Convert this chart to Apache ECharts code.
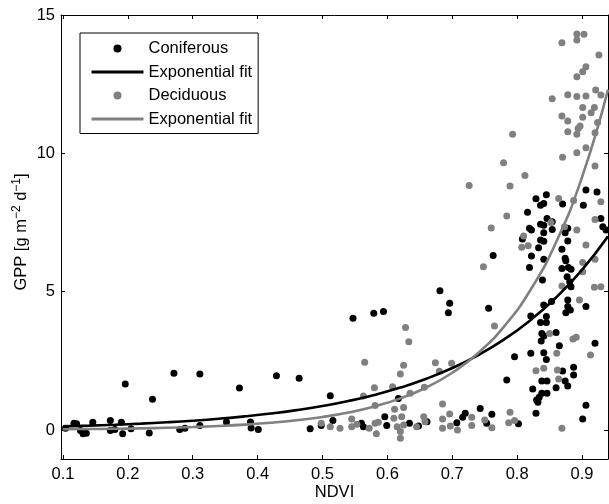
<!DOCTYPE html>
<html>
<head>
<meta charset="utf-8">
<script src="https://cdn.jsdelivr.net/npm/echarts@6/dist/echarts.min.js"></script>
<style>
html,body{margin:0;padding:0;background:#fff;}
#chart{width:609px;height:504px;}
</style>
</head>
<body>
<div id="chart"></div>
<script>
// ---- data ----
const xTicks = [0.1, 0.2, 0.3, 0.4, 0.5, 0.6, 0.7, 0.8, 0.9];
const yTicks = [0, 5, 10, 15];

const coniferous = [
  [0.104,0.06],[0.117,0.24],[0.121,0.22],[0.127,-0.02],[0.131,-0.14],[0.136,-0.12],[0.146,0.28],
  [0.173,0.34],[0.173,-0.02],[0.180,0.02],[0.190,0.28],[0.192,-0.14],[0.196,1.66],[0.205,0.04],
  [0.233,-0.11],[0.238,1.11],[0.271,2.05],[0.280,0.02],[0.288,0.06],[0.311,2.02],[0.311,0.16],
  [0.352,0.29],[0.372,1.52],[0.389,0.29],[0.390,0.07],[0.401,0.02],
  [0.429,1.96],[0.464,1.87],[0.481,0.04],[0.498,0.16],[0.512,1.24],[0.516,0.34],[0.547,4.04],
  [0.560,0.24],[0.563,0.12],[0.579,4.22],[0.594,4.28],[0.596,0.48],[0.599,0.16],[0.617,1.14],
  [0.634,0.24],[0.648,0.14],[0.661,0.30],[0.681,5.03],[0.694,4.24],[0.696,4.58],
  [0.707,0.26],[0.716,0.46],[0.720,0.60],[0.743,0.78],[0.753,0.24],[0.756,4.40],[0.761,0.57],
  [0.763,6.31],[0.784,1.81],[0.796,2.65],[0.802,0.22],[0.808,6.90],[0.816,7.87],[0.819,7.29],
  [0.822,7.23],[0.819,5.87],[0.821,4.12],[0.821,2.77],[0.822,6.29],[0.824,1.48],[0.829,8.36],
  [0.829,0.60],[0.830,1.08],[0.832,1.00],[0.833,6.59],[0.834,1.18],[0.836,8.12],[0.836,7.44],
  [0.836,6.87],[0.836,3.88],[0.837,3.22],[0.838,3.49],[0.838,1.77],[0.838,1.33],[0.839,5.42],
  [0.841,8.19],[0.841,7.40],[0.841,7.13],[0.841,6.82],[0.841,6.17],[0.841,4.52],[0.841,3.40],
  [0.841,2.79],[0.845,8.50],[0.845,4.10],[0.845,3.88],[0.845,2.55],[0.846,7.64],[0.846,1.77],
  [0.846,1.33],[0.853,4.64],[0.854,7.53],[0.854,7.25],[0.860,3.52],[0.860,1.53],[0.865,3.04],
  [0.869,6.53],[0.869,5.84],[0.870,8.17],[0.870,2.13],[0.874,7.13],[0.874,6.21],[0.874,1.77],
  [0.875,6.12],[0.875,4.24],[0.877,5.54],[0.878,7.29],[0.878,6.83],[0.878,4.70],[0.878,4.46],
  [0.878,1.59],[0.879,5.87],[0.881,5.36],[0.882,4.34],[0.883,5.81],[0.883,5.18],[0.887,2.27],
  [0.887,1.99],[0.901,0.40],[0.902,8.12],[0.906,8.67],[0.906,4.46],[0.906,0.89],[0.920,3.13],
  [0.923,8.60],[0.929,7.64],[0.932,7.35],[0.937,7.23]
];

const deciduous = [
  [0.498,0.24],[0.512,0.12],[0.527,0.06],[0.545,0.40],[0.545,0.12],[0.553,0.21],[0.563,1.23],
  [0.565,2.45],[0.572,0.06],[0.580,1.53],[0.581,0.88],[0.581,0.24],[0.583,-0.14],[0.586,0.28],
  [0.608,1.56],[0.610,0.42],[0.611,0.75],[0.615,0.12],[0.620,2.02],[0.620,-0.06],[0.620,-0.30],
  [0.622,0.48],[0.625,2.34],[0.625,0.81],[0.625,0.18],[0.628,3.70],[0.633,3.19],[0.635,1.33],
  [0.645,0.12],[0.656,0.48],[0.657,1.54],[0.658,0.30],[0.674,2.43],[0.680,2.12],[0.685,0.94],
  [0.685,0.40],[0.685,0.06],[0.696,0.58],[0.697,0.14],[0.699,2.41],[0.708,0.00],[0.726,8.84],
  [0.730,0.46],[0.730,0.16],[0.748,5.90],[0.750,0.36],[0.760,7.30],[0.761,0.08],[0.765,3.76],
  [0.779,9.66],[0.784,7.73],[0.787,0.26],[0.789,8.82],[0.789,0.64],[0.793,10.69],[0.796,0.34],
  [0.807,6.60],[0.810,7.01],[0.812,9.20],[0.817,6.66],[0.829,2.14],[0.841,2.23],[0.850,3.49],
  [0.852,7.50],[0.854,11.97],[0.861,2.77],[0.862,2.17],[0.864,8.37],[0.864,1.84],[0.869,14.00],
  [0.869,11.35],[0.869,5.20],[0.869,0.06],[0.870,9.86],[0.873,7.35],[0.878,12.12],[0.878,11.17],
  [0.878,10.78],[0.886,3.29],[0.887,8.29],[0.891,3.35],[0.892,14.31],[0.892,14.10],[0.892,12.77],
  [0.892,12.05],[0.892,10.69],[0.892,10.02],[0.892,7.23],[0.894,10.90],[0.896,4.70],[0.897,10.99],
  [0.901,12.95],[0.901,11.66],[0.901,11.30],[0.901,6.05],[0.901,5.72],[0.903,14.30],[0.906,13.13],
  [0.906,12.07],[0.906,10.20],[0.906,6.69],[0.913,2.71],[0.914,11.47],[0.919,11.66],[0.919,5.16],
  [0.920,10.74],[0.920,9.54],[0.920,7.61],[0.920,6.17],[0.921,12.29],[0.924,11.11],[0.926,13.55],
  [0.929,12.11],[0.929,8.25],[0.929,5.18]
];

// exponential fit curves at evenly spaced NDVI values
const fitX = [0.10,0.14,0.18,0.22,0.26,0.30,0.34,0.38,0.42,0.46,0.50,0.54,0.58,0.62,0.66,0.70,0.74,0.78,0.82,0.86,0.90,0.94];
const fitConiferous = [0.130,0.157,0.189,0.229,0.277,0.335,0.405,0.490,0.592,0.716,0.866,1.047,1.266,1.531,1.851,2.239,2.707,3.274,3.959,4.787,5.789,7.0];
const fitDeciduous  = [0.024,0.032,0.043,0.058,0.079,0.106,0.143,0.192,0.258,0.348,0.468,0.630,0.848,1.141,1.536,2.067,2.783,3.746,5.043,6.788,9.137,12.3];

const legendLabels = {
  'Coniferous': 'Coniferous',
  'fitC': 'Exponential fit',
  'Deciduous': 'Deciduous',
  'fitD': 'Exponential fit'
};

// ---- chart ----
const FONT = '"Liberation Sans", Arial, Helvetica, sans-serif';
const FS = 16.5;
const GRAY = '#808080';
const chart = echarts.init(document.getElementById('chart'), null, {renderer: 'canvas'});

const axisCommon = {
  axisLine: {show: true, onZero: false, lineStyle: {color: '#000', width: 1}},
  axisTick: {show: true, inside: true, length: 4, lineStyle: {color: '#000', width: 1}},
  splitLine: {show: false}
};

const option = {
  backgroundColor: '#fff',
  animation: false,
  textStyle: {fontFamily: FONT},
  grid: {left: 61, right: 1, top: 15, bottom: 45, containLabel: false, outerBoundsMode: 'none'},
  legend: {
    orient: 'vertical',
    left: 80, top: 33,
    padding: [7, 6, 6, 10],
    itemWidth: 52, itemHeight: 8,
    itemGap: 6.5,
    borderColor: '#000', borderWidth: 1, borderRadius: 0,
    backgroundColor: '#fff',
    textStyle: {fontFamily: FONT, fontSize: FS, color: '#000', lineHeight: 17},
    data: [
      {name: 'Coniferous'},
      {name: 'fitC', itemStyle: {opacity: 0}, lineStyle: {width: 3}},
      {name: 'Deciduous'},
      {name: 'fitD', itemStyle: {opacity: 0}, lineStyle: {width: 3}}
    ],
    formatter: function (name) { return legendLabels[name]; },
    selectedMode: false
  },
  xAxis: [
    Object.assign({}, axisCommon, {
      type: 'value', position: 'bottom', min: 0.097, max: 0.94,
      axisTick: Object.assign({}, axisCommon.axisTick, {customValues: xTicks}),
      axisLabel: {customValues: xTicks, margin: 7, fontSize: FS, color: '#000', fontFamily: FONT,
        formatter: function (v) { return v.toFixed(1); }},
      name: 'NDVI', nameLocation: 'middle', nameGap: 25, nameMoveOverlap: false,
      nameTextStyle: {fontSize: FS, color: '#000', fontFamily: FONT}
    }),
    Object.assign({}, axisCommon, {
      type: 'value', position: 'top', min: 0.097, max: 0.94,
      axisTick: Object.assign({}, axisCommon.axisTick, {customValues: xTicks}),
      axisLabel: {show: false}
    })
  ],
  yAxis: [
    Object.assign({}, axisCommon, {
      type: 'value', position: 'left', min: -1.05, max: 15,
      axisTick: Object.assign({}, axisCommon.axisTick, {customValues: yTicks}),
      axisLabel: {customValues: yTicks, margin: 6, fontSize: FS, color: '#000', fontFamily: FONT},
      name: 'GPP [g m{sup|−2} d{sup|−1}]', nameLocation: 'middle', nameGap: 30, nameRotate: 90,
      nameMoveOverlap: false,
      nameTextStyle: {fontSize: FS, color: '#000', fontFamily: FONT, lineHeight: 20, verticalAlign: 'bottom',
        padding: [0, 0, 0, 10],
        rich: {sup: {fontSize: 12, color: '#000', fontFamily: FONT, verticalAlign: 'top', lineHeight: 20}}}
    }),
    Object.assign({}, axisCommon, {
      type: 'value', position: 'right', min: -1.05, max: 15,
      axisTick: Object.assign({}, axisCommon.axisTick, {customValues: yTicks}),
      axisLabel: {show: false}
    })
  ],
  series: [
    {
      name: 'Coniferous', type: 'scatter', xAxisIndex: 0, yAxisIndex: 0,
      symbol: 'circle', symbolSize: 7,
      itemStyle: {color: '#000', opacity: 1},
      data: coniferous
    },
    {
      name: 'fitC', type: 'line', xAxisIndex: 0, yAxisIndex: 0,
      showSymbol: false, symbol: 'none', smooth: true,
      lineStyle: {color: '#000', width: 2.6},
      itemStyle: {color: '#000'},
      data: fitX.map(function (x, i) { return [x, fitConiferous[i]]; })
    },
    {
      name: 'Deciduous', type: 'scatter', xAxisIndex: 0, yAxisIndex: 0,
      symbol: 'circle', symbolSize: 7,
      itemStyle: {color: GRAY, opacity: 1},
      data: deciduous
    },
    {
      name: 'fitD', type: 'line', xAxisIndex: 0, yAxisIndex: 0,
      showSymbol: false, symbol: 'none', smooth: true,
      lineStyle: {color: GRAY, width: 2.6},
      itemStyle: {color: GRAY},
      data: fitX.map(function (x, i) { return [x, fitDeciduous[i]]; })
    }
  ]
};
chart.setOption(option);
</script>
</body>
</html>
